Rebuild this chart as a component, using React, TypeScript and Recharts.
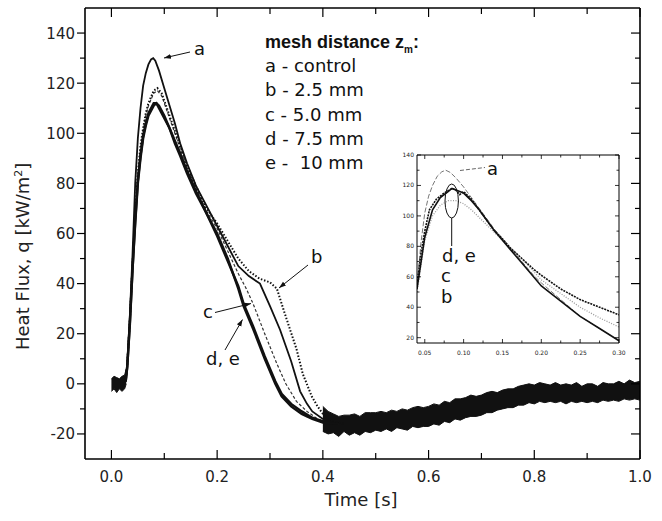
import { ComposedChart, Line, Area, XAxis, YAxis } from "recharts";

const FONT = "'DejaVu Sans', sans-serif";
const INK = "#111";

// main plot: heat flux q [kW/m2] against time [s], pairs of [t, q]
const curveA = [
  [0.027, 1], [0.03, 8], [0.035, 28], [0.04, 52], [0.045, 80], [0.05, 98], [0.055, 110],
  [0.06, 119], [0.065, 124], [0.07, 127.5], [0.075, 129.5], [0.079, 130], [0.083, 129],
  [0.09, 125], [0.1, 118], [0.11, 111], [0.12, 104], [0.13, 96], [0.143, 88], [0.16, 79],
  [0.18, 71], [0.2, 63], [0.22, 55], [0.24, 47], [0.26, 43], [0.281, 40], [0.3, 31],
  [0.319, 21.6], [0.34, 9], [0.357, -3], [0.37, -8], [0.38, -11], [0.4, -14], [0.42, -15.5],
];
const curveB = [
  [0.027, 1], [0.03, 8], [0.035, 26], [0.04, 48], [0.045, 68], [0.05, 84], [0.055, 95],
  [0.06, 102], [0.065, 108], [0.07, 112], [0.08, 117], [0.087, 118], [0.095, 116], [0.1, 113],
  [0.11, 107], [0.12, 101], [0.13, 95], [0.143, 87], [0.16, 79], [0.18, 70], [0.2, 64],
  [0.22, 57], [0.24, 50], [0.26, 45], [0.28, 42], [0.3, 40.5], [0.313, 38], [0.325, 30],
  [0.338, 21.6], [0.35, 14], [0.362, 4], [0.379, -5], [0.39, -9], [0.4, -12], [0.42, -15], [0.44, -16],
];
const curveC = [
  [0.027, 1], [0.03, 8], [0.035, 26], [0.04, 47], [0.045, 67], [0.05, 83], [0.055, 94],
  [0.06, 101], [0.065, 107], [0.07, 111], [0.08, 116], [0.087, 117], [0.095, 115], [0.1, 112],
  [0.11, 106], [0.12, 100], [0.13, 94], [0.143, 86], [0.16, 78], [0.18, 69], [0.2, 62],
  [0.22, 53], [0.24, 44], [0.255, 38], [0.268, 32], [0.29, 20], [0.313, 8], [0.33, 0],
  [0.35, -7], [0.37, -11], [0.39, -14], [0.41, -15.5], [0.43, -16],
];
const curveD = [
  [0.027, 1], [0.03, 7], [0.035, 24], [0.04, 46], [0.045, 64], [0.05, 80], [0.055, 90],
  [0.06, 98], [0.065, 103], [0.07, 107], [0.08, 111], [0.085, 112], [0.09, 111], [0.1, 107],
  [0.11, 102], [0.12, 97], [0.13, 92], [0.143, 85], [0.16, 77], [0.18, 68], [0.2, 60],
  [0.22, 50], [0.24, 38], [0.25, 31], [0.268, 22], [0.29, 10], [0.31, 0], [0.322, -5],
  [0.34, -9], [0.36, -12], [0.38, -14], [0.4, -15.5], [0.43, -16],
];
const curveE = [
  [0.027, 1], [0.03, 7], [0.035, 25], [0.04, 46], [0.045, 65], [0.05, 81], [0.055, 91],
  [0.06, 99], [0.065, 104], [0.07, 108], [0.08, 112], [0.085, 112], [0.09, 110], [0.1, 106],
  [0.11, 102], [0.12, 96], [0.13, 91], [0.143, 84], [0.16, 76], [0.18, 68], [0.2, 59],
  [0.22, 49], [0.24, 39], [0.25, 32], [0.268, 23], [0.29, 11], [0.31, 1], [0.322, -4],
  [0.34, -8], [0.36, -11], [0.38, -13.5], [0.4, -15], [0.43, -16],
];

// noisy baseline before ignition and the noisy tail (all curves together)
const baseTime = [0, 0.005, 0.01, 0.015, 0.02, 0.025, 0.028];
const baseLow = [-3, -2, -3.5, -2, -3, -2, 0];
const baseHigh = [2, 3, 2.5, 2, 3, 3.5, 6];

const tailTime = [
  0.4, 0.41, 0.42, 0.43, 0.44, 0.45, 0.46, 0.47, 0.48, 0.49, 0.5, 0.51, 0.52, 0.53, 0.54, 0.55,
  0.56, 0.57, 0.58, 0.59, 0.6, 0.61, 0.62, 0.63, 0.64, 0.65, 0.66, 0.67, 0.68, 0.69, 0.7, 0.71,
  0.72, 0.73, 0.74, 0.75, 0.76, 0.77, 0.78, 0.79, 0.8, 0.81, 0.82, 0.83, 0.84, 0.85, 0.86, 0.87,
  0.88, 0.89, 0.9, 0.91, 0.92, 0.93, 0.94, 0.95, 0.96, 0.97, 0.98, 0.99, 1.0,
];
const tailLow = [
  -19, -20, -19.5, -21, -19, -20.5, -19.5, -20.5, -19, -19.5, -18.5, -19, -18, -19, -17.5, -18,
  -18.5, -17, -17.5, -17, -17, -16, -16.5, -15, -15.5, -14, -14.5, -13.5, -13, -13, -12.5, -11.5,
  -11.5, -10.5, -10, -9.5, -9.5, -8.5, -8.5, -7.5, -8, -7, -7.5, -7, -7.5, -7, -8, -7,
  -7.5, -7, -7.5, -7, -7.5, -6.5, -7, -6.5, -7, -6, -6.5, -6, -6.5,
];
const tailHigh = [
  -9, -11, -12, -13, -12.5, -12.5, -12, -13, -11.5, -11.5, -11.5, -11, -11.5, -10.5, -11, -10,
  -10.5, -9.5, -9, -9.5, -9, -8, -8.5, -7, -7.5, -6, -6, -5.5, -4.5, -5, -4.5, -3.5,
  -3, -3.5, -2.5, -2, -2, -1, -0.5, 0, -0.5, 0.5, 0, -0.5, 0.5, -0.5, 0, -0.5,
  0.5, -1, 0, 0, -1, 0.5, 0, 0, 1, 0, 1.5, 0.5, 1,
];

// inset: zoom on 0.04 - 0.30 s
const insetA = [
  [0.04, 52], [0.045, 82], [0.05, 102], [0.055, 113], [0.06, 120], [0.066, 126], [0.072, 129],
  [0.077, 130], [0.083, 128.5], [0.09, 125], [0.1, 119], [0.11, 112], [0.12, 105], [0.13, 98],
  [0.14, 91], [0.15, 85], [0.16, 79], [0.175, 70], [0.19, 61], [0.2, 56], [0.225, 45],
  [0.25, 34], [0.275, 26], [0.3, 18],
];
const insetB = [
  [0.04, 55], [0.045, 75], [0.05, 90], [0.056, 104], [0.065, 111], [0.075, 115], [0.085, 118],
  [0.09, 117], [0.095, 114], [0.1, 116], [0.11, 111], [0.12, 104], [0.13, 97], [0.14, 90],
  [0.15, 85], [0.16, 79], [0.175, 72], [0.19, 65], [0.2, 61], [0.225, 52], [0.25, 45],
  [0.275, 40], [0.3, 35],
];
const insetC = [
  [0.04, 50], [0.05, 84], [0.06, 100], [0.07, 107], [0.08, 110], [0.09, 110], [0.1, 108],
  [0.11, 104], [0.12, 99], [0.13, 94], [0.14, 89], [0.15, 84], [0.175, 72], [0.2, 58],
  [0.225, 49], [0.25, 40], [0.275, 33], [0.3, 27],
];
const insetD = [
  [0.04, 52], [0.05, 86], [0.06, 104], [0.07, 112], [0.08, 116], [0.085, 118], [0.095, 116],
  [0.1, 115], [0.11, 110], [0.12, 104], [0.13, 97], [0.14, 90], [0.15, 84], [0.16, 78],
  [0.175, 69], [0.19, 60], [0.2, 54], [0.225, 44], [0.25, 34], [0.275, 26], [0.3, 18],
];

const mainXTicks = [0, 0.1, 0.2, 0.3, 0.4, 0.5, 0.6, 0.7, 0.8, 0.9, 1.0];
const mainYTicks = [-20, -10, 0, 10, 20, 30, 40, 50, 60, 70, 80, 90, 100, 110, 120, 130, 140];
const insetXTicks = [0.05, 0.075, 0.1, 0.125, 0.15, 0.175, 0.2, 0.225, 0.25, 0.275, 0.3];
const insetYTicks = [20, 30, 40, 50, 60, 70, 80, 90, 100, 110, 120, 130, 140];

const legendLines = ["a - control", "b - 2.5 mm", "c - 5.0 mm", "d - 7.5 mm", "e -  10 mm"];

const pts = (rows: number[][]) => rows.map(([t, q]) => ({ t, q }));
const band = (time: number[], lo: number[], hi: number[]) =>
  time.map((t, i) => ({ t, r: [lo[i], hi[i]] }));

const evenTenth = (v: number) => Math.round(v * 10) % 2 === 0;
const evenTwenty = (v: number) => Math.round(v) % 20 === 0;
const insetXMajor = (v: number) => Math.round(v * 1000) % 50 === 0;

// custom ticks: Recharts puts x/y on the axis line (tickSize=0, tickMargin=0)
function makeTick(opts: {
  side: "left" | "bottom" | "top" | "right";
  major: (v: number) => boolean;
  label?: (v: number) => string;
  big: number;
  small: number;
  fontSize?: number;
  dx?: number;
  dy?: number;
  width?: number;
}) {
  const { side, major, label, big, small, fontSize = 15, dx = 0, dy = 0, width = 1.2 } = opts;
  return (props: any) => {
    const { x, y, payload } = props;
    const v = payload.value;
    const isMajor = major(v);
    const len = isMajor ? big : small;
    let x2 = x;
    let y2 = y;
    if (side === "left" || side === "right") x2 = x - len;
    if (side === "bottom") y2 = y - len;
    if (side === "top") y2 = y + len;
    return (
      <g>
        <line x1={x} y1={y} x2={x2} y2={y2} stroke="#000" strokeWidth={width} />
        {label && isMajor && (
          <text
            x={x + dx}
            y={y + dy}
            textAnchor={side === "left" ? "end" : "middle"}
            fontSize={fontSize}
            fontFamily={FONT}
            fill="#222"
          >
            {label(v)}
          </text>
        )}
      </g>
    );
  };
}

const frame = { stroke: "#000", strokeWidth: 1.6 };
const insetFrame = { stroke: "#000", strokeWidth: 1 };

function MainChart() {
  return (
    <ComposedChart width={662} height={521} margin={{ top: 7, right: 21, bottom: 32, left: 25 }}>
      <XAxis
        dataKey="t"
        type="number"
        domain={[-0.05, 1]}
        allowDataOverflow
        ticks={mainXTicks}
        interval={0}
        height={30}
        tickSize={0}
        tickMargin={0}
        tickLine={false}
        axisLine={frame}
        tick={makeTick({ side: "bottom", major: evenTenth, label: (v) => v.toFixed(1), big: 9, small: 6, dy: 23 })}
      />
      <XAxis
        xAxisId="top"
        orientation="top"
        dataKey="t"
        type="number"
        domain={[-0.05, 1]}
        allowDataOverflow
        ticks={mainXTicks}
        interval={0}
        height={1}
        tickSize={0}
        tickMargin={0}
        tickLine={false}
        axisLine={frame}
        tick={makeTick({ side: "top", major: evenTenth, big: 9, small: 6 })}
      />
      <YAxis
        type="number"
        domain={[-30, 150]}
        allowDataOverflow
        ticks={mainYTicks}
        interval={0}
        width={60}
        tickSize={0}
        tickMargin={0}
        tickLine={false}
        axisLine={frame}
        tick={makeTick({ side: "left", major: evenTwenty, label: (v) => String(v), big: 8, small: 5, dx: -10, dy: 5.5 })}
      />
      <YAxis
        yAxisId="right"
        orientation="right"
        type="number"
        domain={[-30, 150]}
        allowDataOverflow
        ticks={mainYTicks}
        interval={0}
        width={1}
        tickSize={0}
        tickMargin={0}
        tickLine={false}
        axisLine={frame}
        tick={makeTick({ side: "right", major: evenTwenty, big: 9, small: 5 })}
      />
      <Area data={band(baseTime, baseLow, baseHigh)} dataKey="r" type="linear" stroke={INK} strokeWidth={1} fill={INK} fillOpacity={1} isAnimationActive={false} />
      <Area data={band(tailTime, tailLow, tailHigh)} dataKey="r" type="linear" stroke={INK} strokeWidth={1} fill={INK} fillOpacity={1} isAnimationActive={false} />
      <Line data={pts(curveC)} dataKey="q" type="linear" stroke="#333" strokeWidth={1.2} strokeDasharray="3 2" dot={false} isAnimationActive={false} />
      <Line data={pts(curveB)} dataKey="q" type="linear" stroke={INK} strokeWidth={2} strokeDasharray="1.5 1.8" dot={false} isAnimationActive={false} />
      <Line data={pts(curveA)} dataKey="q" type="linear" stroke={INK} strokeWidth={1.8} dot={false} isAnimationActive={false} />
      <Line data={pts(curveE)} dataKey="q" type="linear" stroke={INK} strokeWidth={2.4} dot={false} isAnimationActive={false} />
      <Line data={pts(curveD)} dataKey="q" type="linear" stroke={INK} strokeWidth={2.4} dot={false} isAnimationActive={false} />
    </ComposedChart>
  );
}

function InsetChart() {
  return (
    <ComposedChart width={244} height={208} margin={{ top: 4, right: 16, bottom: 0, left: 0 }}>
      <XAxis
        dataKey="t"
        type="number"
        domain={[0.04, 0.3]}
        allowDataOverflow
        ticks={insetXTicks}
        interval={0}
        height={15}
        tickSize={0}
        tickMargin={0}
        tickLine={false}
        axisLine={insetFrame}
        tick={makeTick({ side: "bottom", major: insetXMajor, label: (v) => v.toFixed(2), big: 4, small: 2.5, fontSize: 6, dy: 12, width: 0.8 })}
      />
      <XAxis
        xAxisId="top"
        orientation="top"
        dataKey="t"
        type="number"
        domain={[0.04, 0.3]}
        allowDataOverflow
        ticks={insetXTicks}
        interval={0}
        height={1}
        tickSize={0}
        tickMargin={0}
        tickLine={false}
        axisLine={insetFrame}
        tick={makeTick({ side: "top", major: insetXMajor, big: 4, small: 2.5, width: 0.8 })}
      />
      <YAxis
        type="number"
        domain={[16.5, 140]}
        allowDataOverflow
        ticks={insetYTicks}
        interval={0}
        width={25}
        tickSize={0}
        tickMargin={0}
        tickLine={false}
        axisLine={insetFrame}
        tick={makeTick({ side: "left", major: evenTwenty, label: (v) => String(v), big: -4, small: -2.5, fontSize: 6, dx: -3, dy: 2, width: 0.8 })}
      />
      <YAxis
        yAxisId="right"
        orientation="right"
        type="number"
        domain={[16.5, 140]}
        allowDataOverflow
        ticks={insetYTicks}
        interval={0}
        width={1}
        tickSize={0}
        tickMargin={0}
        tickLine={false}
        axisLine={insetFrame}
        tick={makeTick({ side: "right", major: evenTwenty, big: 4, small: 2.5, width: 0.8 })}
      />
      <Line data={pts(insetC)} dataKey="q" type="linear" stroke="#9a9a9a" strokeWidth={1.3} strokeDasharray="1 1.5" dot={false} isAnimationActive={false} />
      <Line data={pts(insetA)} dataKey="q" type="linear" stroke="#666" strokeWidth={0.9} strokeDasharray="5 2" dot={false} isAnimationActive={false} />
      <Line data={pts(insetB)} dataKey="q" type="linear" stroke={INK} strokeWidth={1.6} strokeDasharray="2 1" dot={false} isAnimationActive={false} />
      <Line data={pts(insetD)} dataKey="q" type="linear" stroke={INK} strokeWidth={1.6} dot={false} isAnimationActive={false} />
    </ComposedChart>
  );
}

export default function App() {
  const note = { fontFamily: FONT, fontSize: 18, fill: "#111" };
  return (
    <div style={{ position: "absolute", left: 0, top: 0, width: 662, height: 521, background: "#fff" }}>
      <MainChart />
      <div style={{ position: "absolute", left: 392, top: 150 }}>
        <InsetChart />
      </div>
      <svg width={662} height={521} style={{ position: "absolute", left: 0, top: 0, pointerEvents: "none" }}>
        <defs>
          <marker id="arrow" viewBox="0 0 10 10" refX="10" refY="5" markerWidth="7" markerHeight="7" orient="auto">
            <path d="M0,1.5 L10,5 L0,8.5 z" fill="#111" />
          </marker>
        </defs>
        {/* axis titles */}
        <text x={361} y={506} textAnchor="middle" fontFamily={FONT} fontSize={18} fill="#222">Time [s]</text>
        <text transform="translate(29,350) rotate(-90)" fontFamily={FONT} fontSize={18} fill="#222">
          Heat Flux, q [kW/m<tspan dy={-7} fontSize={11}>2</tspan><tspan dy={7}>]</tspan>
        </text>
        {/* legend */}
        <text x={265} y={48} fontFamily="'Liberation Sans', Arial, sans-serif" fontWeight="bold" fontSize={18} fill="#111">
          mesh distance z<tspan dy={5} fontSize={10}>m</tspan><tspan dy={-5}>:</tspan>
        </text>
        {legendLines.map((s, i) => (
          <text key={s} x={265} y={72 + i * 24.3} {...note} style={{ whiteSpace: "pre" }}>{s}</text>
        ))}
        {/* main annotations */}
        <text x={194} y={55} {...note}>a</text>
        <line x1={190} y1={52} x2={164} y2={58} stroke="#111" strokeWidth={1} markerEnd="url(#arrow)" />
        <text x={311} y={263} {...note}>b</text>
        <line x1={308} y1={265} x2={279} y2={288} stroke="#111" strokeWidth={1} markerEnd="url(#arrow)" />
        <text x={203} y={318} {...note}>c</text>
        <line x1={215} y1={312.5} x2={251} y2={303.5} stroke="#111" strokeWidth={1} markerEnd="url(#arrow)" />
        <text x={206} y={365} {...note}>d, e</text>
        <line x1={225} y1={350} x2={242.5} y2={319.5} stroke="#111" strokeWidth={1} markerEnd="url(#arrow)" />
        {/* inset annotations */}
        <line x1={460} y1={170.5} x2={485} y2={167.5} stroke="#555" strokeWidth={0.9} strokeDasharray="4 2" />
        <text x={487} y={175} {...note}>a</text>
        <ellipse cx={451.7} cy={201} rx={6.7} ry={17} fill="none" stroke="#111" strokeWidth={1} />
        <line x1={451.7} y1={218} x2={451.7} y2={246} stroke="#111" strokeWidth={1} />
        <text x={442} y={262} {...note}>d, e</text>
        <text x={441} y={282} {...note}>c</text>
        <text x={441} y={303} {...note}>b</text>
      </svg>
    </div>
  );
}
